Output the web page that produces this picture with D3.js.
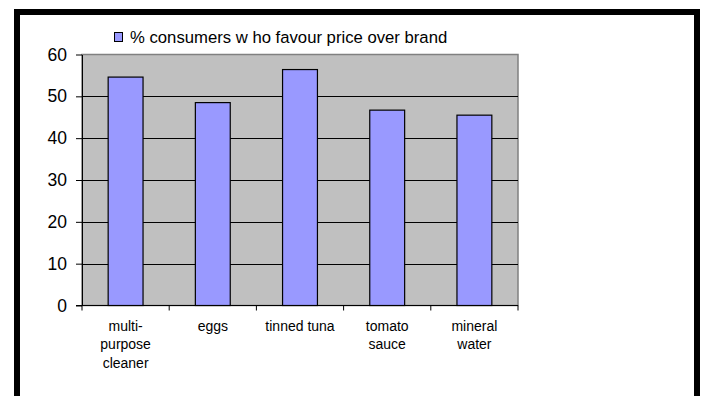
<!DOCTYPE html>
<html>
<head>
<meta charset="utf-8">
<script src="https://cdn.jsdelivr.net/npm/d3@7"></script>
<style>
  html, body { margin: 0; padding: 0; background: #fff; }
  svg { display: block; font-family: Arial, "Liberation Sans", sans-serif; }
</style>
</head>
<body>
<svg id="chart" width="703" height="396"></svg>
<script>
// Products surveyed and share of consumers choosing on price
const categories = [["multi-", "purpose", "cleaner"], ["eggs"], ["tinned tuna"], ["tomato", "sauce"], ["mineral", "water"]];
const values = [54.6, 48.5, 56.4, 46.7, 45.5];
const yTicks = [0, 10, 20, 30, 40, 50, 60];
const seriesName = "% consumers w ho favour price over brand";

const svg = d3.select("#chart");

// Outer frame (open at the bottom edge of the page)
svg.append("rect")
  .attr("x", 17).attr("y", 12)
  .attr("width", 680).attr("height", 420)
  .attr("fill", "#fff")
  .attr("stroke", "#000")
  .attr("stroke-width", 6);

const plot = { left: 82, top: 54.5, right: 518, bottom: 305.5 };

const x = d3.scaleBand()
  .domain(d3.range(categories.length))
  .range([plot.left, plot.right])
  .paddingInner(0).paddingOuter(0);

const y = d3.scaleLinear()
  .domain([0, 60])
  .range([plot.bottom, plot.top]);

// Plot background
svg.append("rect")
  .attr("x", plot.left).attr("y", plot.top)
  .attr("width", plot.right - plot.left)
  .attr("height", plot.bottom - plot.top)
  .attr("fill", "#c0c0c0")
  .attr("stroke", "#808080")
  .attr("stroke-width", 1.5);

// Horizontal gridlines
svg.append("g")
  .selectAll("line")
  .data(yTicks.filter(t => t > 0 && t < 60))
  .join("line")
  .attr("x1", plot.left).attr("x2", plot.right)
  .attr("y1", d => Math.round(y(d)) + 0.5)
  .attr("y2", d => Math.round(y(d)) + 0.5)
  .attr("stroke", "#000")
  .attr("stroke-width", 1);

// Bars
const barW = x.bandwidth() / 2.5;
svg.append("g")
  .selectAll("rect")
  .data(values)
  .join("rect")
  .attr("x", (d, i) => x(i) + (x.bandwidth() - barW) / 2)
  .attr("y", d => y(d))
  .attr("width", barW)
  .attr("height", d => plot.bottom - y(d))
  .attr("fill", "#9999ff")
  .attr("stroke", "#000")
  .attr("stroke-width", 1.2);

// Y axis
const yAxis = svg.append("g")
  .attr("transform", `translate(${plot.left},0)`)
  .call(d3.axisLeft(y).tickValues(yTicks).tickSize(6).tickPadding(6).tickSizeOuter(0));
yAxis.select(".domain").attr("stroke", "#000");
yAxis.selectAll(".tick line").attr("stroke", "#000");
yAxis.selectAll(".tick text")
  .attr("font-size", 17.5)
  .attr("font-family", "Arial, 'Liberation Sans', sans-serif")
  .attr("fill", "#000")
  .attr("dx", -3);

// X axis with ticks on category boundaries
const xAxisG = svg.append("g").attr("transform", `translate(0,${plot.bottom})`);
xAxisG.append("line")
  .attr("x1", plot.left - 6).attr("x2", plot.right)
  .attr("y1", 0).attr("y2", 0)
  .attr("stroke", "#000");
xAxisG.selectAll("line.tk")
  .data(d3.range(categories.length + 1))
  .join("line")
  .attr("class", "tk")
  .attr("x1", i => i < categories.length ? x(i) : plot.right)
  .attr("x2", i => i < categories.length ? x(i) : plot.right)
  .attr("y1", 0).attr("y2", 5)
  .attr("stroke", "#000");

// Category labels
const labels = xAxisG.selectAll("text.cat")
  .data(categories)
  .join("text")
  .attr("class", "cat")
  .attr("text-anchor", "middle")
  .attr("font-size", 14)
  .attr("fill", "#000")
  .attr("transform", (d, i) => `translate(${x(i) + x.bandwidth() / 2},25)`);
labels.selectAll("tspan")
  .data(d => d)
  .join("tspan")
  .attr("x", 0)
  .attr("y", (d, j) => j * 18.5)
  .text(d => d);

// Legend
const legend = svg.append("g").attr("transform", "translate(114,32)");
legend.append("rect")
  .attr("x", 0.5).attr("y", 0.5)
  .attr("width", 8).attr("height", 9)
  .attr("fill", "#9999ff")
  .attr("stroke", "#000")
  .attr("stroke-width", 1);
legend.append("text")
  .attr("x", 16).attr("y", 10.5)
  .attr("font-size", 16.7)
  .attr("fill", "#000")
  .text(seriesName);
</script>
</body>
</html>
